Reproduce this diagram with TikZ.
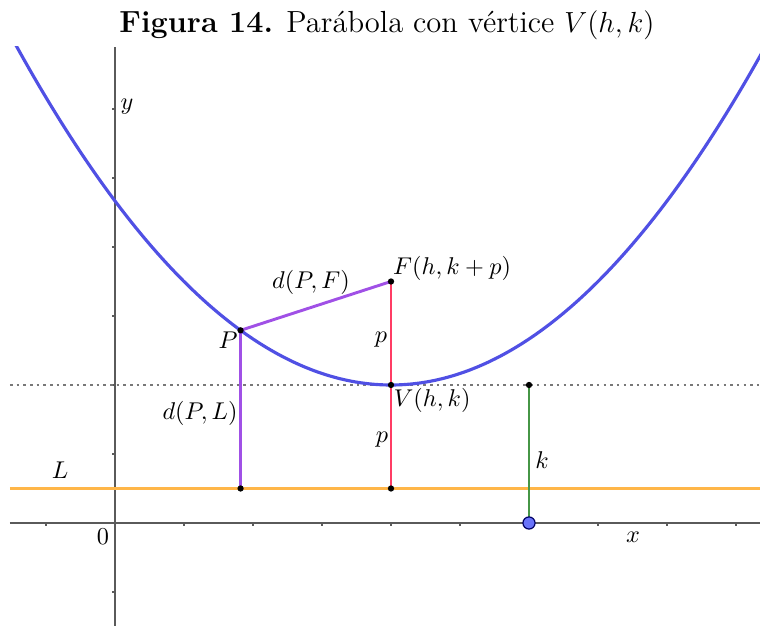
\documentclass[tikz,border=0pt]{standalone}
\usetikzlibrary{calc}
\definecolor{parab}{RGB}{80,80,228}
\definecolor{purp}{RGB}{160,80,230}
\definecolor{redseg}{RGB}{255,60,100}
\definecolor{orangeL}{RGB}{255,182,72}
\definecolor{greenk}{RGB}{70,150,70}
\definecolor{axisgray}{RGB}{90,90,90}
\definecolor{dotgray}{RGB}{120,120,120}
\definecolor{ptblue}{RGB}{105,115,250}
\tikzset{
  axisline/.style={axisgray, line width=0.5pt},
  tickmark/.style={axisgray, line width=0.45pt},
  curve/.style={parab, line width=1.3pt},
  seg/.style={line width=1.2pt},
  dotpt/.style={circle, fill=black, inner sep=0pt, minimum size=2.6pt},
  lbl/.style={inner sep=1pt, font=\normalsize},
}
\begin{document}
\begin{tikzpicture}[x=1cm,y=1cm]
\useasboundingbox (-1.6667,-1.4928) rectangle (9.3478,7.5797);
% title
\node (title) at (3.942,7.21) {\fontsize{12.6}{14}\selectfont\textbf{Figura 14.} Par\'abola con v\'ertice $V(h,k)$};
% axes
\coordinate (xl) at (-1.522,0);
\coordinate (xr) at (9.3478,0);
\coordinate (yb) at (0,-1.4928);
\coordinate (yt) at (0,6.9);
\draw[axisline] (xl) -- (xr);
\draw[axisline] (yb) -- (yt);
\foreach \i in {-1,1,2,...,9} \draw[tickmark] (\i,0) -- (\i,-0.05);
\foreach \j in {-1,1,2,...,6} \draw[tickmark] (0,\j) -- (-0.05,\j);
\node[lbl] (ylab) at (0.174,6.03) {$y$};
\node[lbl] (xlab) at (7.507,-0.203) {$x$};
\node[lbl] (zero) at (-0.174,-0.203) {$0$};
% dotted line y=k
\coordinate (dl) at (-1.522,2);
\coordinate (dr) at (9.3478,2);
\draw[dotgray, line width=1.1pt, dash pattern=on 1.05pt off 1.7pt] (dl) -- (dr);
% directrix
\coordinate (Ll) at (-1.522,0.5);
\coordinate (Lr) at (9.3478,0.5);
\draw[orangeL, line width=1.15pt] (Ll) -- (Lr);
\node[lbl] (Llab) at (-0.797,0.768) {$L$};
% parabola
\begin{scope}
\clip (-1.522,-1.4928) rectangle (9.3478,6.9);
\draw[curve, domain=-1.6:9.4, samples=120, smooth] plot (\x,{2+(\x-4)*(\x-4)/6});
\end{scope}
% points
\coordinate (P) at (1.82,2.792);
\coordinate (PL) at (1.82,0.5);
\coordinate (F) at (4,3.5);
\coordinate (V) at (4,2);
\coordinate (VL) at (4,0.5);
\coordinate (K) at (6,2);
\coordinate (K0) at (6,0);
% segments
\draw[seg, purp] (P) -- (F);
\draw[seg, purp] (P) -- (PL);
\draw[seg, redseg] (F) -- (V);
\draw[seg, redseg] (V) -- (VL);
\draw[seg, greenk] (K) -- (K0);
\foreach \q in {P,PL,F,V,VL,K} \node[dotpt] at (\q) {};
\node[circle, fill=ptblue, draw=black!60!blue, line width=0.5pt, inner sep=0pt, minimum size=5pt] (Kpt) at (K0) {};
% labels
\node[lbl] (Plab) at (1.638,2.652) {$P$};
\node[lbl] (dPF) at (2.84,3.49) {$d(P,F)$};
\node[lbl, anchor=west] (Flab) at (3.99,3.696) {$F(h,k+p)$};
\node[lbl] (p1) at (3.855,2.652) {$p$};
\node[lbl, anchor=west] (Vlab) at (4.0,1.783) {$V(h,k)$};
\node[lbl] (p2) at (3.87,1.203) {$p$};
\node[lbl] (dPL) at (1.232,1.594) {$d(P,L)$};
\node[lbl] (klab) at (6.188,0.913) {$k$};
\end{tikzpicture}
\end{document}
